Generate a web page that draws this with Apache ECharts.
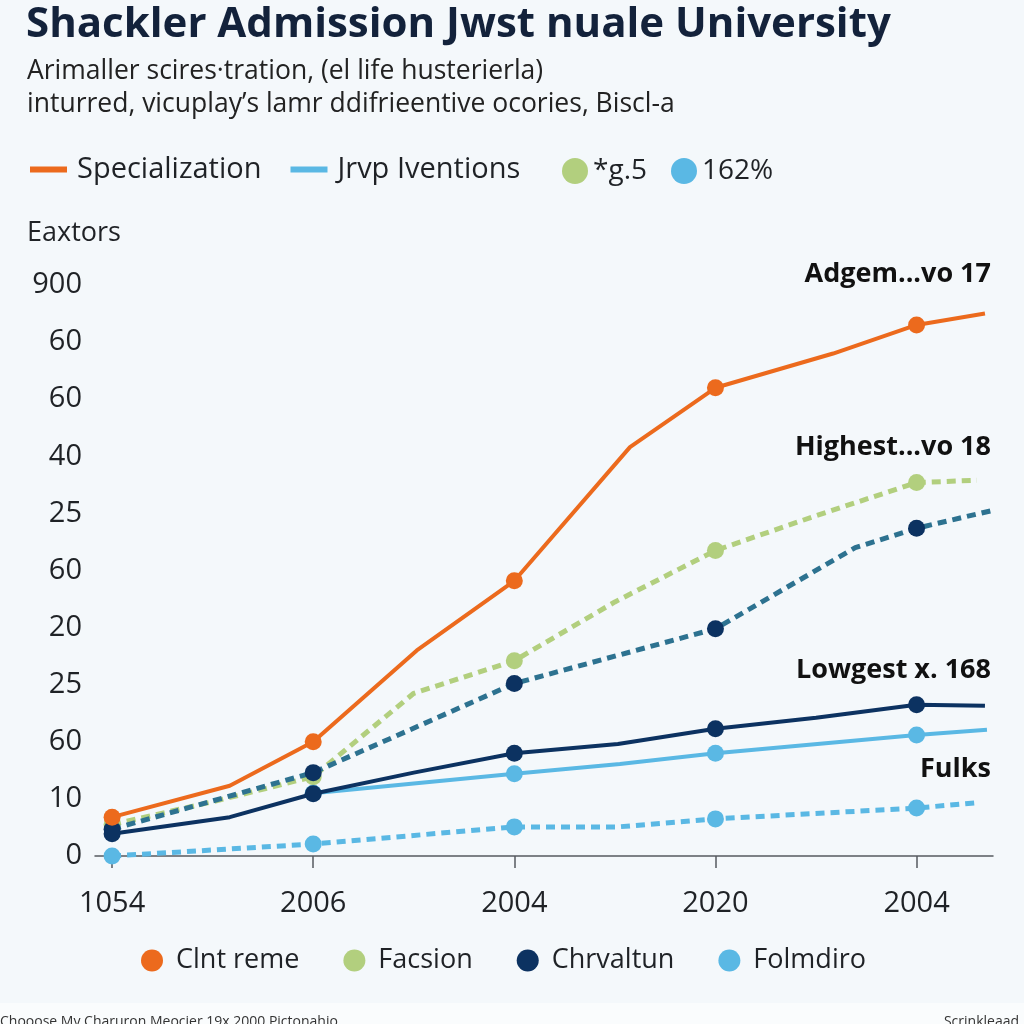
<!DOCTYPE html>
<html>
<head>
<meta charset="utf-8">
<script src="https://cdn.jsdelivr.net/npm/echarts@6/dist/echarts.min.js"></script>
<style>
html,body{margin:0;padding:0;background:#f4f8fb;}
#chart{width:1024px;height:1024px;}
</style>
</head>
<body>
<div id="chart"></div>
<script>
// ---- data ----
const xTickValues = [0, 2, 4, 6, 8];
const xTickLabels = ['1054', '2006', '2004', '2020', '2004'];
const yTickLabels = ['0', '10', '60', '25', '20', '60', '25', '40', '60', '60', '900'];

const orangeX = [0, 1.17, 2, 3.03, 4, 5.15, 6, 7.17, 8, 8.68];
const orangeY = [6.8, 12.3, 20, 36, 48.2, 71.6, 82, 88, 93, 95];

const greenX = [0, 1, 2, 3, 4, 5, 6, 7, 8, 8.6];
const greenY = [5.5, 9.5, 13.9, 28.5, 34.2, 44.5, 53.5, 59.6, 65.4, 65.8];

const navyDashX = [0, 2, 4, 6, 7.39, 8, 8.75];
const navyDashY = [4.7, 14.6, 30.2, 39.8, 54, 57.4, 60.5];

const navyX = [0, 1.17, 2, 3, 4, 5.03, 6, 7, 8, 8.68];
const navyY = [3.9, 6.8, 10.9, 14.6, 18, 19.6, 22.3, 24.2, 26.5, 26.3];

const lightX = [2, 4, 5.05, 6, 8, 8.7];
const lightY = [11, 14.4, 16.1, 18, 21.2, 22.1];

const lightDashX = [0, 2, 4, 5.03, 6, 8, 8.58];
const lightDashY = [0, 2.1, 5.1, 5.1, 6.5, 8.4, 9.3];

const annotations = ['Adgem...vo 17', 'Highest...vo 18', 'Lowgest x. 168', 'Fulks'];

// ---- styles ----
const C = {
  orange: '#ec6a1d', green: '#b2cf7e', navy: '#0c3261', teal: '#2d7290', light: '#5ab8e4', text: '#1f2226'
};
const FONT = '"Open Sans", "Noto Sans", sans-serif';

function pts(xs, ys) {
  return xs.map((x, i) => ({
    value: [x, ys[i]],
    symbol: xTickValues.includes(x) ? 'circle' : 'none'
  }));
}
function lineSeries(name, xs, ys, lineColor, markColor, dashed, z) {
  return {
    name: name, type: 'line', data: pts(xs, ys), z: z,
    symbolSize: 17, showSymbol: true,
    color: markColor,
    itemStyle: { color: markColor },
    lineStyle: { color: lineColor, width: dashed ? 5 : 4, type: dashed ? [9, 6] : 'solid' },
    emphasis: { disabled: true }
  };
}
function dummy(name, color) {
  return { name: name, type: 'line', data: [], color: color, itemStyle: { color: color }, lineStyle: { color: color } };
}

const series = [
  lineSeries('Facsion', greenX, greenY, C.green, C.green, true, 3),
  lineSeries('Highest', navyDashX, navyDashY, C.teal, C.navy, true, 4),
  lineSeries('Folmdiro', lightX, lightY, C.light, C.light, false, 5),
  lineSeries('Chrvaltun', navyX, navyY, C.navy, C.navy, false, 6),
  lineSeries('Fulks', lightDashX, lightDashY, C.light, C.light, true, 5),
  lineSeries('Clnt reme', orangeX, orangeY, C.orange, C.orange, false, 7),
  dummy('Specialization', C.orange),
  dummy('Jrvp Iventions', C.light),
  dummy('*g.5', C.green),
  dummy('162%', C.light)
];

const chart = echarts.init(document.getElementById('chart'), null, { renderer: 'canvas' });
chart.setOption({
  animation: false,
  backgroundColor: '#f4f8fb',
  textStyle: { fontFamily: FONT },
  grid: { left: 95, right: 31, top: 285, bottom: 168, containLabel: false },
  xAxis: {
    type: 'value', min: -0.17, max: 8.76,
    axisLine: { show: true, lineStyle: { color: '#555a60', width: 1.5 } },
    axisTick: { show: true, customValues: xTickValues, length: 12, lineStyle: { color: '#555a60', width: 1.5 } },
    axisLabel: {
      customValues: xTickValues, margin: 33, fontSize: 29, color: C.text, fontFamily: FONT,
      formatter: v => xTickLabels[xTickValues.indexOf(v)]
    },
    splitLine: { show: false }
  },
  yAxis: {
    type: 'value', min: 0, max: 100, interval: 10,
    axisLine: { show: false }, axisTick: { show: false }, splitLine: { show: false },
    axisLabel: {
      margin: 13, fontSize: 29, color: C.text, fontFamily: FONT,
      formatter: v => yTickLabels[Math.round(v / 10)]
    }
  },
  legend: [
    {
      left: 25, top: 150, itemWidth: 37, itemHeight: 6, itemGap: 29,
      data: [{ name: 'Specialization', icon: 'rect' }, { name: 'Jrvp Iventions', icon: 'rect' }],
      textStyle: { fontSize: 29, color: C.text, fontFamily: FONT, padding: [0, 0, 0, 5] }, selectedMode: false
    },
    {
      left: 557, top: 152, itemWidth: 26, itemHeight: 26, itemGap: 24,
      data: [{ name: '*g.5', icon: 'circle' }, { name: '162%', icon: 'circle', itemStyle: { color: C.light } }],
      textStyle: { fontSize: 28, color: C.text, fontFamily: FONT }, selectedMode: false
    },
    {
      left: 136, top: 942, itemWidth: 22, itemHeight: 22, itemGap: 44,
      data: [{ name: 'Clnt reme', icon: 'circle' }, { name: 'Facsion', icon: 'circle' },
             { name: 'Chrvaltun', icon: 'circle' }, { name: 'Folmdiro', icon: 'circle' }],
      textStyle: { fontSize: 27, color: C.text, fontFamily: FONT, padding: [0, 0, 0, 8] }, selectedMode: false
    }
  ],
  series: series,
  graphic: [
    { type: 'text', left: 26, top: 4, style: { text: 'Shackler Admission Jwst nuale University', font: 'bold 42px ' + FONT, fill: '#13223b' } },
    { type: 'text', left: 27, top: 58, style: { text: 'Arimaller scires·tration, (el life husterierla)', font: '26.5px ' + FONT, fill: '#222' } },
    { type: 'text', left: 27, top: 91, style: { text: 'inturred, vicuplay’s lamr ddifrieentive ocories, Biscl-a', font: '26.5px ' + FONT, fill: '#222' } },
    { type: 'text', left: 27, top: 220, style: { text: 'Eaxtors', font: '27px ' + FONT, fill: C.text } },
    { type: 'text', right: 33, top: 261, style: { text: annotations[0], font: 'bold 27px ' + FONT, fill: '#111' } },
    { type: 'text', right: 33, top: 434, style: { text: annotations[1], font: 'bold 27px ' + FONT, fill: '#111' } },
    { type: 'text', right: 33, top: 657, style: { text: annotations[2], font: 'bold 27px ' + FONT, fill: '#111' } },
    { type: 'text', right: 33, top: 756, style: { text: annotations[3], font: 'bold 27px ' + FONT, fill: '#111' } },
    { type: 'rect', left: 0, top: 1003, shape: { width: 1024, height: 21 }, style: { fill: '#fafcfd' } },
    { type: 'text', left: 0, top: 1015, style: { text: 'Chooose My Charuron Meocier 19x 2000 Pictonahio', font: '14px ' + FONT, fill: '#333' } },
    { type: 'text', right: 5, top: 1015, style: { text: 'Scrinkleaad', font: '14px ' + FONT, fill: '#333' } }
  ]
});
</script>
</body>
</html>
